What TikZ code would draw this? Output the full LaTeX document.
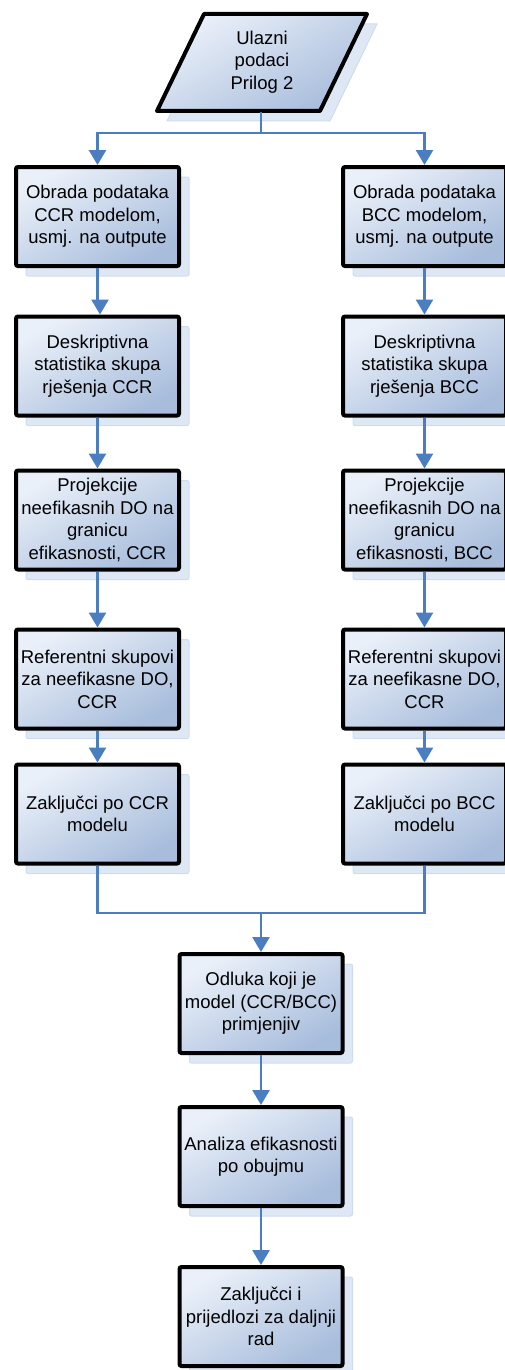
\documentclass[tikz,border=0pt]{standalone}
\usepackage{fontspec}
\setmainfont{Liberation Sans}
\usetikzlibrary{arrows.meta,shadows}
\definecolor{conn}{RGB}{74,126,193}
\definecolor{boxtop}{RGB}{234,240,249}
\definecolor{boxbot}{RGB}{168,189,220}
\definecolor{shfill}{RGB}{222,231,244}
\definecolor{shdraw}{RGB}{208,220,238}
\begin{document}
\begin{tikzpicture}[x=1pt,y=-1pt,
  myshadow/.style={drop shadow={shadow xshift=10pt, shadow yshift=-10pt, fill=shfill, draw=shdraw, line width=1pt, opacity=1}},
  myshade/.style={top color=boxtop, bottom color=boxbot, shading angle=30},
  flowbox/.style={draw=black, line width=4pt, rounded corners=2pt, minimum width=163pt, minimum height=99pt, inner sep=0pt, align=center, font=\fontsize{18.5}{22.5}\selectfont, myshade, myshadow},
  link/.style={draw=conn, line width=2.6pt},
  arr/.style={link, -{Triangle[width=17pt,length=15pt]}}]
\useasboundingbox (0,0) rectangle (504,1370);

% input parallelogram
\path[myshade, myshadow, draw=black, line width=4pt, line join=round]
  (157,111) -- (204,14) -- (367,14) -- (320,111) -- cycle;
\node[font=\fontsize{18.5}{22.5}\selectfont, align=center] (in) at (262,62) {Ulazni\\podaci\\Prilog 2};
\coordinate (inb) at (261,112);
\coordinate (split) at (261,133);

% left column
\node[flowbox] (L1) at (97.5,216.5) {Obrada podataka\\CCR modelom,\\usmj. na outpute};
\node[flowbox] (L2) at (97.5,366) {Deskriptivna\\statistika skupa\\rješenja CCR};
\node[flowbox] (L3) at (97.5,520) {Projekcije\\neefikasnih DO na\\granicu\\efikasnosti, CCR};
\node[flowbox] (L4) at (97.5,679) {Referentni skupovi\\za neefikasne DO,\\CCR};
\node[flowbox] (L5) at (97.5,814) {Zaključci po CCR\\modelu};

% right column
\node[flowbox] (R1) at (424.5,216.5) {Obrada podataka\\BCC modelom,\\usmj. na outpute};
\node[flowbox] (R2) at (424.5,366) {Deskriptivna\\statistika skupa\\rješenja BCC};
\node[flowbox] (R3) at (424.5,520) {Projekcije\\neefikasnih DO na\\granicu\\efikasnosti, BCC};
\node[flowbox] (R4) at (424.5,679) {Referentni skupovi\\za neefikasne DO,\\CCR};
\node[flowbox] (R5) at (424.5,814) {Zaključci po BCC\\modelu};

% bottom
\node[flowbox] (B1) at (261,1003.5) {Odluka koji je\\model (CCR/BCC)\\primjenjiv};
\node[flowbox] (B2) at (261,1156.5) {Analiza efikasnosti\\po obujmu};
\node[flowbox] (B3) at (261,1316.5) {Zaključci i\\prijedlozi za daljnji\\rad};

\coordinate (merge) at (261,913);
\coordinate (j1) at (97.5,305);
\coordinate (j2) at (100,305);

% connectors
\draw[link] (inb) -- (split);
\draw[arr] (split) -| (L1.north);
\draw[arr] (split) -| (R1.north);
\draw[arr] (L1.south) -- (j1) -- (j2) -- (j2 |- L2.north);
\draw[arr] (L2) -- (L3);
\draw[arr] (L3) -- (L4);
\draw[arr] (L4) -- (L5);
\draw[arr] (R1) -- (R2);
\draw[arr] (R2) -- (R3);
\draw[arr] (R3) -- (R4);
\draw[arr] (R4) -- (R5);
\draw[link] (L5.south) |- (merge);
\draw[link] (R5.south) |- (merge);
\draw[arr] (merge) -- (B1.north);
\draw[arr] (B1) -- (B2);
\draw[arr] (B2) -- (B3);
\end{tikzpicture}
\end{document}
